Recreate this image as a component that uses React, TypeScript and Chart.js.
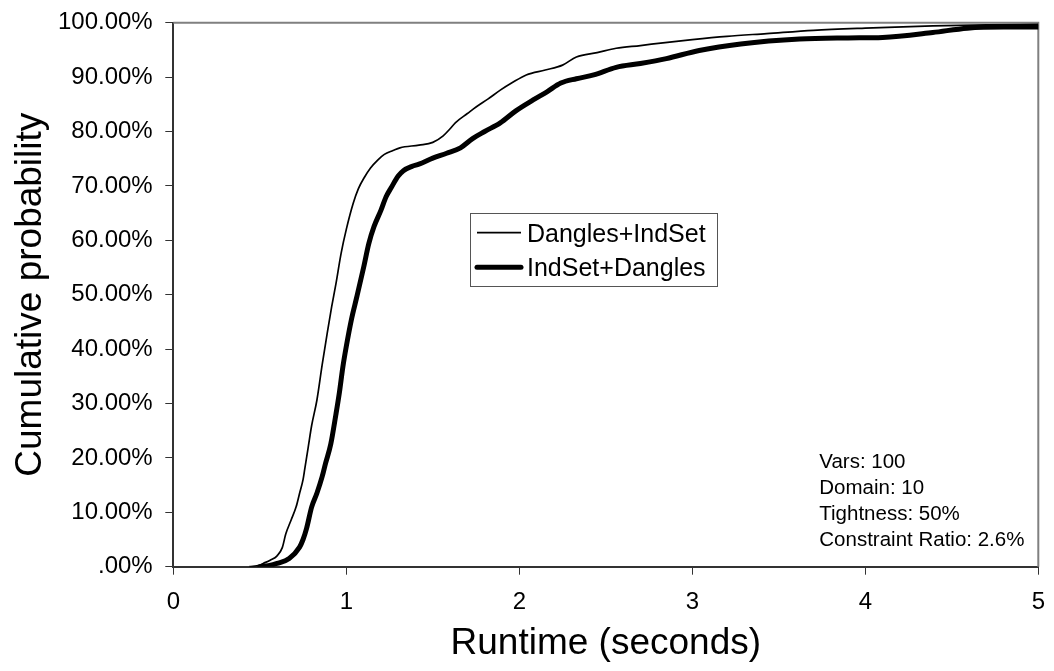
import { useEffect, useRef } from "react";
import { Chart, registerables } from "chart.js";

Chart.register(...registerables);

const FONT = "'Liberation Sans', Arial, Helvetica, sans-serif";

// Series names
const seriesLabels = ["Dangles+IndSet", "IndSet+Dangles"];

// Dangles+IndSet: runtime (s) and cumulative probability (%)
const danglesFirstRuntime = [
  0.44, 0.5, 0.52, 0.56, 0.6, 0.63, 0.65, 0.68, 0.71, 0.73, 0.75, 0.76, 0.78, 0.8, 0.83, 0.86,
  0.89, 0.915, 0.94, 0.97, 1.0, 1.04, 1.07, 1.105, 1.14, 1.18, 1.22, 1.27, 1.31, 1.42, 1.5, 1.56,
  1.6, 1.63, 1.7, 1.75, 1.82, 1.89, 1.96, 2.04, 2.15, 2.25, 2.33, 2.45, 2.56, 2.7, 2.83, 3.0,
  3.2, 3.43, 3.7, 4.0, 4.39, 4.7, 5.0,
];
const danglesFirstProb = [
  0, 0.3, 0.6, 1.2, 2, 3.5, 6, 8.5, 11, 13.5, 16, 18, 22, 26, 30.6, 37,
  43, 47.7, 52, 57.6, 62, 66.8, 69.5, 71.6, 73.3, 74.7, 75.8, 76.5, 77, 77.5, 78, 79.2,
  80.5, 81.6, 83.3, 84.5, 86, 87.6, 89, 90.4, 91.3, 92.2, 93.7, 94.5, 95.3, 95.8, 96.3, 96.9,
  97.5, 98, 98.6, 99.0, 99.4, 99.6, 99.7,
];

// IndSet+Dangles: runtime (s) and cumulative probability (%)
const indsetFirstRuntime = [
  0.5, 0.55, 0.6, 0.67, 0.73, 0.75, 0.77, 0.8, 0.83, 0.86, 0.88, 0.91, 0.94, 0.96, 0.98, 1.0,
  1.03, 1.06, 1.1, 1.13, 1.16, 1.2, 1.23, 1.26, 1.3, 1.33, 1.38, 1.42, 1.5, 1.58, 1.66, 1.73,
  1.8, 1.89, 1.98, 2.08, 2.16, 2.24, 2.33, 2.43, 2.56, 2.7, 2.85, 3.04, 3.28, 3.62, 3.9, 4.1,
  4.39, 4.59, 4.8, 5.0,
];
const indsetFirstProb = [
  0, 0.2, 0.6, 1.5, 3.6, 5, 7, 11, 13.5, 16.5, 19, 22.5, 28, 32, 36.7, 40.5,
  45.5, 49.5, 55, 59.4, 62.5, 65.5, 68, 69.7, 71.8, 72.8, 73.6, 74, 75.1, 76, 77, 78.7,
  80, 81.6, 83.8, 85.8, 87.3, 88.9, 89.7, 90.4, 91.8, 92.5, 93.4, 94.9, 96.1, 97, 97.2, 97.3,
  98.2, 99, 99.2, 99.2,
];

// Axis ticks
const xTickValues = [0, 1, 2, 3, 4, 5];
const yTickValues = [0, 10, 20, 30, 40, 50, 60, 70, 80, 90, 100];

// Experiment settings shown in the lower right
const settingsLines = ["Vars: 100", "Domain: 10", "Tightness: 50%", "Constraint Ratio: 2.6%"];

const toPoints = (xs: number[], ys: number[]) => xs.map((x, i) => ({ x, y: ys[i] }));

const formatPercent = (v: number) => (v === 0 ? ".00%" : `${v.toFixed(2)}%`);

// Grey top/right frame of the plot area
const framePlugin = {
  id: "plotFrame",
  beforeDatasetsDraw(chart: any) {
    const { ctx, chartArea: a } = chart;
    ctx.save();
    ctx.strokeStyle = "#808080";
    ctx.lineWidth = 2;
    ctx.beginPath();
    ctx.moveTo(a.left, a.top);
    ctx.lineTo(a.right, a.top);
    ctx.lineTo(a.right, a.bottom);
    ctx.stroke();
    ctx.restore();
  },
};

// Boxed legend inside the plot
const boxLegendPlugin = {
  id: "boxLegend",
  afterDatasetsDraw(chart: any) {
    const { ctx } = chart;
    const datasets = chart.data.datasets;
    ctx.save();
    ctx.fillStyle = "#ffffff";
    ctx.fillRect(470.5, 213.5, 247, 73);
    ctx.strokeStyle = "#555555";
    ctx.lineWidth = 1;
    ctx.strokeRect(470.5, 213.5, 247, 73);
    const rows = [232.7, 267.3];
    datasets.forEach((ds: any, i: number) => {
      ctx.strokeStyle = ds.borderColor;
      ctx.lineWidth = ds.borderWidth;
      ctx.lineCap = i === 1 ? "round" : "butt";
      ctx.beginPath();
      ctx.moveTo(477, rows[i]);
      ctx.lineTo(521, rows[i]);
      ctx.stroke();
      ctx.fillStyle = "#000000";
      ctx.font = `25px ${FONT}`;
      ctx.textAlign = "left";
      ctx.textBaseline = "alphabetic";
      ctx.fillText(ds.label, 527, rows[i] + 9);
    });
    ctx.restore();
  },
};

// Settings note in the lower right corner
const settingsPlugin = {
  id: "settingsNote",
  afterDatasetsDraw(chart: any) {
    const { ctx } = chart;
    ctx.save();
    ctx.fillStyle = "#000000";
    ctx.font = `20.5px ${FONT}`;
    ctx.textAlign = "left";
    ctx.textBaseline = "alphabetic";
    settingsLines.forEach((line, i) => {
      ctx.fillText(line, 819.3, 468.3 + i * 26);
    });
    ctx.restore();
  },
};

export default function App() {
  const canvasRef = useRef<HTMLCanvasElement | null>(null);

  useEffect(() => {
    const canvas = canvasRef.current;
    if (!canvas) return;
    const chart = new Chart(canvas, {
      type: "scatter",
      data: {
        datasets: [
          {
            label: seriesLabels[0],
            data: toPoints(danglesFirstRuntime, danglesFirstProb),
            showLine: true,
            borderColor: "#000000",
            backgroundColor: "#000000",
            borderWidth: 1.7,
            borderJoinStyle: "round",
            cubicInterpolationMode: "monotone",
            pointRadius: 0,
            fill: false,
          },
          {
            label: seriesLabels[1],
            data: toPoints(indsetFirstRuntime, indsetFirstProb),
            showLine: true,
            borderColor: "#000000",
            backgroundColor: "#000000",
            borderWidth: 5,
            borderJoinStyle: "round",
            borderCapStyle: "round",
            cubicInterpolationMode: "monotone",
            pointRadius: 0,
            fill: false,
          },
        ],
      },
      options: {
        responsive: false,
        animation: false,
        devicePixelRatio: 1,
        layout: { padding: { top: 22.7, right: 15.7, left: 0, bottom: 0 } },
        plugins: {
          legend: { display: false },
          tooltip: { enabled: false },
        },
        scales: {
          x: {
            type: "linear",
            min: 0,
            max: 5,
            afterBuildTicks: (scale: any) => {
              scale.ticks = xTickValues.map((value) => ({ value }));
            },
            afterFit: (scale: any) => {
              scale.height = 104.3;
              scale.paddingLeft = 0;
              scale.paddingRight = 0;
            },
            ticks: {
              color: "#000000",
              font: { family: FONT, size: 24 },
              padding: 13.4,
              maxRotation: 0,
              callback: (v: any) => String(v),
            },
            grid: {
              drawOnChartArea: false,
              drawTicks: true,
              tickLength: 8,
              tickColor: "#333333",
              lineWidth: 1,
            },
            border: { display: true, color: "#333333", width: 2 },
            title: {
              display: true,
              text: "Runtime (seconds)",
              color: "#000000",
              font: { family: FONT, size: 37 },
              padding: { top: 0, bottom: 4.6 },
            },
          },
          y: {
            type: "linear",
            min: 0,
            max: 100,
            afterBuildTicks: (scale: any) => {
              scale.ticks = yTickValues.map((value) => ({ value }));
            },
            afterFit: (scale: any) => {
              scale.width = 173.3;
              scale.paddingTop = 0;
              scale.paddingBottom = 0;
            },
            ticks: {
              color: "#000000",
              font: { family: FONT, size: 24 },
              padding: 12.6,
              callback: (v: any) => formatPercent(Number(v)),
            },
            grid: {
              drawOnChartArea: false,
              drawTicks: true,
              tickLength: 8,
              tickColor: "#333333",
              lineWidth: 1,
            },
            border: { display: true, color: "#333333", width: 2 },
            title: {
              display: true,
              text: "Cumulative probability",
              color: "#000000",
              font: { family: FONT, size: 37 },
              padding: { top: 8.3, bottom: 0 },
            },
          },
        },
      },
      plugins: [framePlugin, boxLegendPlugin, settingsPlugin],
    } as any);
    return () => chart.destroy();
  }, []);

  return (
    <div
      style={{
        position: "fixed",
        left: 0,
        top: 0,
        width: 1054,
        height: 671,
        background: "#ffffff",
      }}
    >
      <canvas ref={canvasRef} width={1054} height={671} style={{ display: "block" }} />
    </div>
  );
}
